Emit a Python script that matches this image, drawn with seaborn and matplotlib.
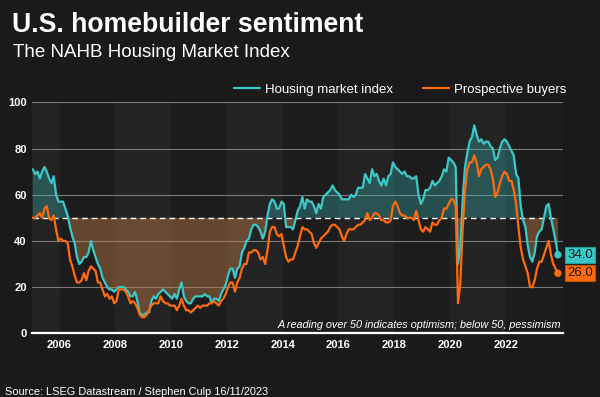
import numpy as np
import pandas as pd
import matplotlib
matplotlib.use("Agg")
import matplotlib.pyplot as plt
import seaborn as sns

# NAHB housing market index, monthly, Jan 2005 - Nov 2023
hmi = [
    71, 69, 70, 67, 70, 72, 70, 67, 65, 68, 60, 57,   # 2005
    57, 57, 54, 51, 46, 42, 39, 33, 30, 31, 33, 33,   # 2006
    35, 40, 36, 33, 30, 28, 24, 22, 20, 19, 19, 18,   # 2007
    19, 20, 20, 20, 19, 18, 16, 16, 18, 14, 9, 8,     # 2008
    8, 9, 9, 14, 16, 15, 17, 18, 19, 18, 17, 16,      # 2009
    15, 17, 15, 19, 22, 16, 14, 13, 13, 15, 16, 16,   # 2010
    16, 16, 17, 16, 16, 13, 15, 15, 14, 17, 19, 21,   # 2011
    25, 28, 28, 24, 28, 29, 35, 37, 40, 41, 45, 47,   # 2012
    47, 46, 44, 41, 44, 51, 56, 58, 57, 54, 54, 57,   # 2013
    56, 46, 46, 46, 45, 49, 53, 55, 59, 54, 58, 57,   # 2014
    57, 55, 52, 56, 54, 59, 60, 61, 62, 64, 62, 61,   # 2015
    60, 58, 58, 58, 58, 60, 59, 60, 63, 63, 63, 69,   # 2016
    67, 65, 71, 68, 69, 66, 64, 67, 64, 68, 69, 74,   # 2017
    72, 71, 70, 69, 70, 68, 68, 67, 67, 68, 60, 56,   # 2018
    58, 62, 62, 63, 66, 64, 65, 66, 68, 71, 70, 76,   # 2019
    75, 74, 72, 30, 37, 58, 72, 78, 83, 85, 90, 86,   # 2020
    83, 84, 82, 83, 83, 81, 80, 75, 76, 80, 83, 84,   # 2021
    83, 81, 79, 77, 69, 67, 55, 49, 46, 38, 33, 31,   # 2022
    35, 42, 44, 45, 50, 55, 56, 50, 45, 40, 34,       # 2023
]

# Prospective buyers traffic component
buyers = [
    50, 50, 51, 52, 50, 54, 55, 50, 49, 51, 45, 40,
    41, 40, 40, 39, 32, 29, 25, 22, 22, 23, 26, 23,
    27, 29, 28, 27, 22, 22, 19, 16, 17, 15, 16, 13,
    14, 19, 19, 19, 18, 16, 13, 14, 13, 11, 8, 7,
    7, 8, 10, 12, 13, 13, 13, 16, 14, 13, 13, 12,
    12, 12, 10, 12, 15, 12, 10, 10, 9, 10, 11, 12,
    11, 12, 12, 12, 13, 13, 14, 13, 12, 14, 15, 17,
    20, 22, 22, 18, 22, 24, 28, 30, 30, 35, 35, 36,
    36, 35, 32, 33, 30, 36, 44, 46, 46, 43, 42, 43,
    38, 33, 31, 32, 32, 35, 38, 42, 46, 45, 45, 44,
    43, 39, 37, 39, 41, 42, 43, 44, 46, 47, 47, 46,
    45, 42, 40, 43, 45, 45, 45, 46, 47, 47, 48, 49,
    52, 49, 50, 52, 52, 51, 49, 49, 48, 48, 49, 55,
    57, 55, 52, 51, 51, 50, 50, 50, 49, 53, 49, 45,
    44, 46, 45, 44, 48, 47, 47, 49, 50, 54, 54, 56,
    58, 58, 55, 13, 22, 45, 62, 71, 74, 74, 77, 74,
    68, 71, 72, 73, 73, 71, 67, 59, 61, 65, 68, 70,
    69, 66, 66, 62, 56, 46, 37, 32, 29, 26, 20, 20,
    23, 28, 31, 31, 34, 37, 40, 34, 30, 28, 26,
]

series_names = ["Housing market index", "Prospective buyers"]
first_year = 2005
threshold = 50
year_ticks = list(range(2006, 2024, 2))
y_ticks = [0, 20, 40, 60, 80, 100]

BG = "#1a1a1a"
TEAL = "#3cc8c8"
ORANGE = "#ff6a0d"

# release is mid-month, so put each reading half a month in
x = first_year + (np.arange(len(hmi)) + 0.5) / 12
df = pd.DataFrame({
    "year": np.concatenate([x, x]),
    "value": hmi + buyers,
    "series": [series_names[0]] * len(hmi) + [series_names[1]] * len(buyers),
})

sns.set_theme(style="dark")
plt.rcParams["font.family"] = ["Liberation Sans", "DejaVu Sans"]

fig = plt.figure(figsize=(6, 3.97), dpi=100, facecolor=BG)
ax = fig.add_axes([0.0528, 0.1604, 0.8852, 0.5819])
ax.set_facecolor("#1c1c1c")

# alternating two-year background bands
for yr in range(first_year - 1, 2024, 4):
    ax.axvspan(yr, yr + 2, color="#232323", lw=0, zorder=0.1)

hmi_arr = np.array(hmi, dtype=float)
ax.fill_between(x, hmi_arr, threshold, where=hmi_arr >= threshold,
                interpolate=True, color=TEAL, alpha=0.3, lw=0, zorder=1)
ax.fill_between(x, hmi_arr, threshold, where=hmi_arr < threshold,
                interpolate=True, color="#c8814a", alpha=0.42, lw=0, zorder=1)
ax.hlines(threshold, x[0], x[-1], colors="white", linestyles=(0, (4, 3)),
          lw=1.0, zorder=2)

sns.lineplot(data=df, x="year", y="value", hue="series",
             palette=[TEAL, ORANGE], lw=1.6, ax=ax, zorder=3)

ax.scatter([x[-1], x[-1]], [hmi[-1], buyers[-1]], s=28,
           c=[TEAL, ORANGE], zorder=4, lw=0)

ax.set_xlim(first_year, 2024.05)
ax.set_ylim(0, 100)
ax.set_xticks(year_ticks)
ax.set_xticklabels([str(t) for t in year_ticks], fontweight="bold")
ax.set_yticks(y_ticks)
ax.set_yticklabels([str(t) for t in y_ticks], fontweight="bold")
ax.tick_params(axis="x", length=0, colors="white", labelsize=8, pad=5)
ax.tick_params(axis="y", length=0, colors="white", labelsize=8, pad=3.5)
ax.set_xlabel("")
ax.set_ylabel("")
ax.set_axisbelow(True)
ax.yaxis.grid(True, color="#7a7a7a", lw=0.8)
ax.xaxis.grid(False)
for side in ["left", "right", "top"]:
    ax.spines[side].set_visible(False)
ax.spines["bottom"].set_color("white")
ax.spines["bottom"].set_linewidth(1.6)
ax.spines["bottom"].set_zorder(5)

handles, labels = ax.get_legend_handles_labels()
ax.legend(handles, labels, loc="lower right", bbox_to_anchor=(1.02, 1.0),
          ncol=2, frameon=False, fontsize=9.5, labelcolor="white",
          handlelength=1.95, columnspacing=2.3, borderaxespad=0.1,
          handletextpad=0.4)

# end-of-series value boxes
ax.annotate(f"{hmi[-1]:.1f}", xy=(1.008, hmi[-1]),
            xycoords=("axes fraction", "data"), ha="left", va="center",
            fontsize=9.5, color="#1a1a1a",
            bbox=dict(boxstyle="square,pad=0.15", fc=TEAL, ec="#1e9e9e", lw=0.8))
ax.annotate(f"{buyers[-1]:.1f}", xy=(1.008, buyers[-1]),
            xycoords=("axes fraction", "data"), ha="left", va="center",
            fontsize=9.5, color="#1a1a1a",
            bbox=dict(boxstyle="square,pad=0.15", fc=ORANGE, ec="#c04d00", lw=0.8))

ax.text(0.997, 0.022, "A reading over 50 indicates optimism; below 50, pessimism",
        transform=ax.transAxes, ha="right", va="baseline", style="italic",
        fontsize=7.8, color="white", zorder=6)

fig.text(0.02, 0.920, "U.S. homebuilder sentiment", fontsize=19.2,
         fontweight="bold", color="white", va="baseline")
fig.text(0.022, 0.856, "The NAHB Housing Market Index", fontsize=13.5,
         color="white", va="baseline")
fig.text(0.008, 0.005, "Source: LSEG Datastream / Stephen Culp 16/11/2023",
         fontsize=7.9, color="white", va="baseline")

fig.savefig("out.png", dpi=100, facecolor=BG)
